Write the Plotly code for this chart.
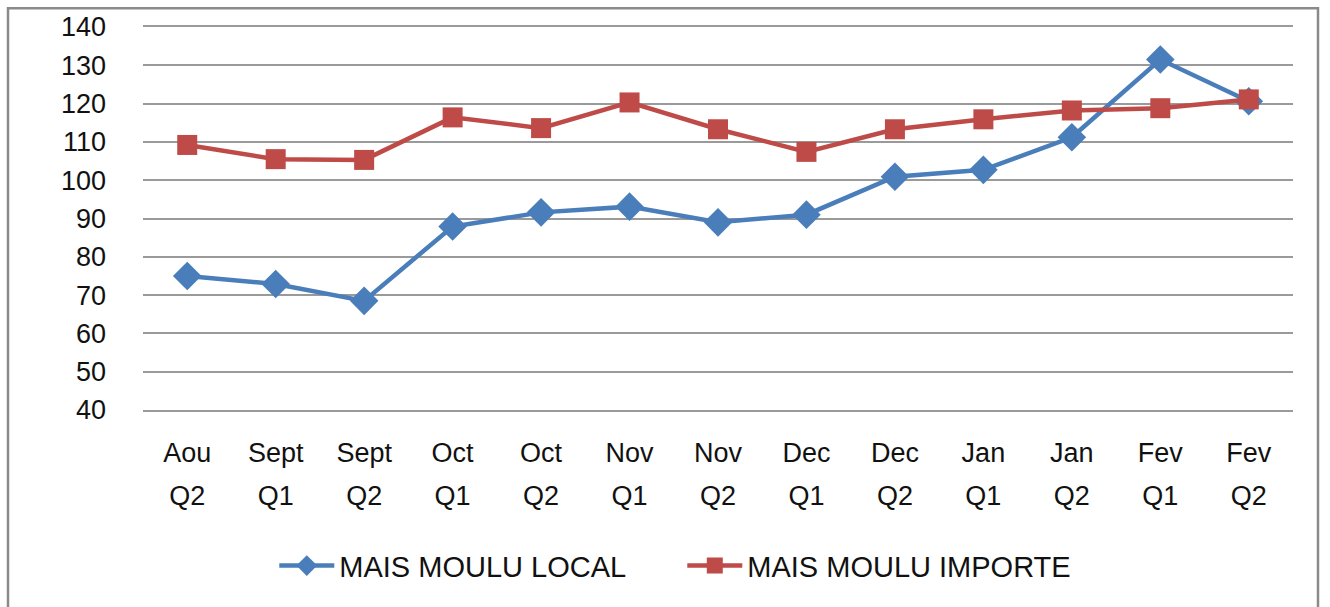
import plotly.graph_objects as go

months = ["Aou", "Sept", "Sept", "Oct", "Oct", "Nov", "Nov", "Dec", "Dec", "Jan", "Jan", "Fev", "Fev"]
quarters = ["Q2", "Q1", "Q2", "Q1", "Q2", "Q1", "Q2", "Q1", "Q2", "Q1", "Q2", "Q1", "Q2"]
local = [75.0, 72.9, 68.5, 87.9, 91.6, 93.1, 89.0, 91.0, 100.9, 102.7, 111.2, 131.5, 120.6]
importe = [109.2, 105.5, 105.3, 116.4, 113.6, 120.3, 113.3, 107.4, 113.3, 115.9, 118.2, 118.8, 121.1]
y_ticks = [40, 50, 60, 70, 80, 90, 100, 110, 120, 130, 140]

x = list(range(len(months)))
FONT = "Liberation Sans"
BLUE = "#4A7EBB"
RED = "#BE4B48"
GRID = "#9a9a9a"

fig = go.Figure()
fig.add_trace(go.Scatter(
    x=x, y=local, name="MAIS MOULU LOCAL", mode="lines+markers",
    line=dict(color=BLUE, width=4.5),
    marker=dict(symbol="diamond", size=22, color=BLUE),
))
fig.add_trace(go.Scatter(
    x=x, y=importe, name="MAIS MOULU IMPORTE", mode="lines+markers",
    line=dict(color=RED, width=4.5),
    marker=dict(symbol="square", size=20, color=RED),
))
# second overlaid axis carrying the quarter labels
fig.add_trace(go.Scatter(x=x, y=[None] * len(x), xaxis="x2", showlegend=False, hoverinfo="skip"))

fig.update_layout(
    width=1330, height=607,
    margin=dict(l=143, r=37, t=24, b=197),
    paper_bgcolor="white", plot_bgcolor="white",
    font=dict(family=FONT, size=27, color="#111111"),
    showlegend=True,
    legend=dict(orientation="h", xref="container", yref="container",
                x=0.513, xanchor="center", y=0.068, yanchor="middle",
                font=dict(size=29, family=FONT), itemwidth=55, tracegroupgap=0,
                entrywidth=338, entrywidthmode="pixels"),
    xaxis=dict(range=[-0.5, 12.5], tickmode="array", tickvals=x, ticktext=months,
               showgrid=False, zeroline=False, showline=True, mirror=True,
               linecolor=GRID, linewidth=1.5, ticks="",
               ticklabelstandoff=18, tickfont=dict(size=27)),
    xaxis2=dict(range=[-0.5, 12.5], tickmode="array", tickvals=x, ticktext=quarters,
                overlaying="x", side="bottom", anchor="y",
                showgrid=False, zeroline=False, showline=False, ticks="",
                ticklabelstandoff=67, tickfont=dict(size=27)),
    yaxis=dict(range=[40, 140], tickmode="array", tickvals=y_ticks,
               showgrid=True, gridcolor=GRID, gridwidth=1.5,
               zeroline=False, showline=False, ticks="",
               ticklabelstandoff=36, tickfont=dict(size=27)),
    shapes=[dict(type="rect", xref="paper", yref="paper",
                 x0=(8 - 143) / 1150, x1=(1318 - 143) / 1150,
                 y0=(410 - 640) / 386, y1=(410 - 5) / 386,
                 line=dict(color="#8a8a8a", width=2.5), fillcolor="rgba(0,0,0,0)",
                 layer="below")],
)

fig.write_html("out.html", config={"displayModeBar": False},
               post_script="document.body.style.margin='0';")
